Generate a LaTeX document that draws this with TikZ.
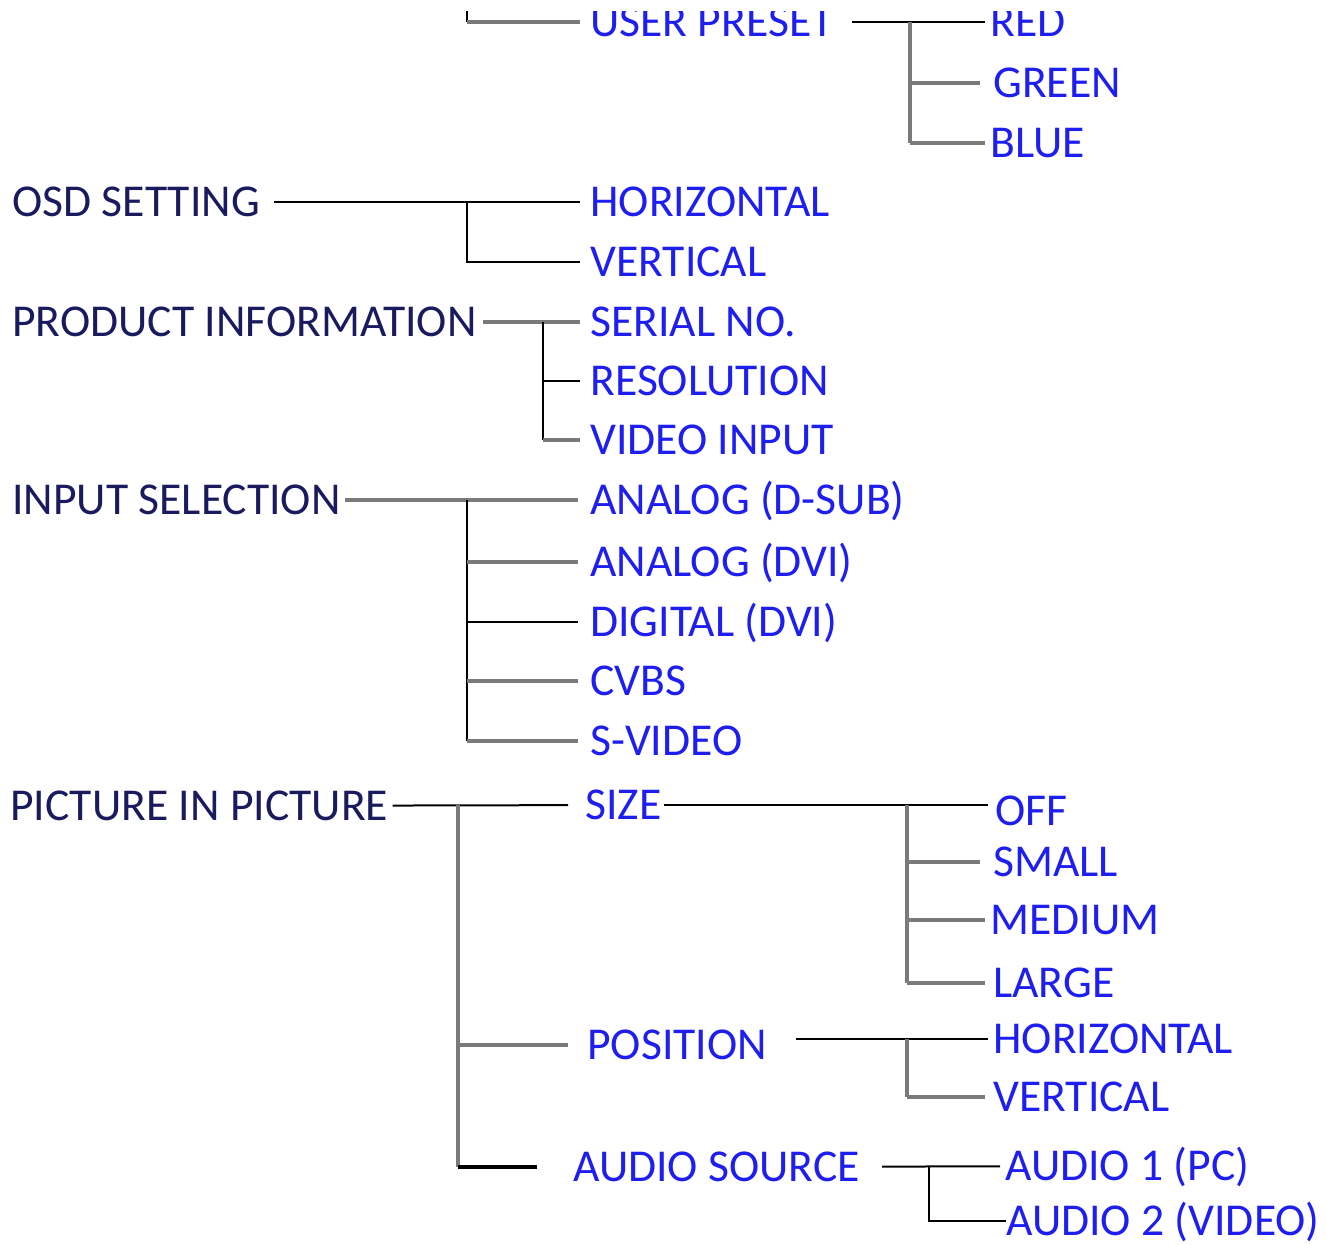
\documentclass[tikz,border=0pt]{standalone}
\usepackage{fontspec}
\setmainfont{Carlito}
\definecolor{menunavy}{HTML}{1A1A5E}
\definecolor{menublue}{HTML}{1E1EF0}
\definecolor{linegray}{HTML}{7A7A7A}

\begin{document}
\begin{tikzpicture}[x=0.5pt, y=-0.5pt,
  menu/.style={anchor=west, inner sep=0pt, text height=14.5pt, text depth=0pt,
    font=\fontsize{22.8}{27}\selectfont},
  top/.style={menu, text=menunavy},
  sub/.style={menu, text=menublue},
  thinwire/.style={draw=black, line width=1pt},
  thickwire/.style={draw=linegray, line width=2.2pt},
  trunk/.style={draw=linegray, line width=1.6pt}]

  \useasboundingbox (0,0) rectangle (1327,1245);
  \clip (0,12) rectangle (1327,1245);

  % user preset (cut off at the top)
  \coordinate (upTop) at (467,4);
  \node[sub] (userp) at (590,22) {USER PRESET};
  \node[sub] (red) at (990,22) {RED};
  \node[sub] (green) at (993,83) {GREEN};
  \node[sub] (blue) at (990,143) {BLUE};
  \coordinate (userJ) at (910,22);
  \draw[thinwire] (upTop) -- (upTop |- userp);
  \draw[thickwire, shorten >=5pt] (upTop |- userp) -- (userp);
  \draw[thinwire, shorten <=9pt, shorten >=2.5pt] (userp) -- (red);
  \draw[trunk] (userJ) -- (userJ |- blue);
  \draw[thickwire, shorten >=6.5pt] (userJ |- green) -- (green);
  \draw[thickwire, shorten >=2.5pt] (userJ |- blue) -- (blue);

  % osd setting
  \node[top] (osd) at (12,202) {OSD SETTING};
  \node[sub] (osdH) at (590,202) {HORIZONTAL};
  \node[sub] (osdV) at (590,262) {VERTICAL};
  \coordinate (osdJ) at (467,202);
  \draw[thinwire, shorten <=7pt, shorten >=5pt] (osd) -- (osdH);
  \draw[thinwire, shorten >=5pt] (osdJ) |- (osdV);

  % product information
  \node[top] (prod) at (12,322) {PRODUCT INFORMATION};
  \node[sub] (serial) at (590,322) {SERIAL NO.};
  \node[sub] (resol) at (590,381) {RESOLUTION};
  \node[sub] (vidin) at (590,440) {VIDEO INPUT};
  \coordinate (prodJ) at (543,322);
  \draw[thickwire, shorten <=3pt, shorten >=5pt] (prod) -- (serial);
  \draw[thinwire] (prodJ) -- (prodJ |- vidin);
  \draw[thinwire, shorten >=5pt] (prodJ |- resol) -- (resol);
  \draw[thickwire, shorten >=5pt] (prodJ |- vidin) -- (vidin);

  % input selection
  \node[top] (inpsel) at (12,500) {INPUT SELECTION};
  \node[sub] (adsub) at (590,500) {ANALOG (D-SUB)};
  \node[sub] (advi) at (590,562) {ANALOG (DVI)};
  \node[sub] (ddvi) at (590,622) {DIGITAL (DVI)};
  \node[sub] (cvbs) at (590,681) {CVBS};
  \node[sub] (svideo) at (590,741) {S-VIDEO};
  \coordinate (inpJ) at (467,500);
  \draw[thickwire, shorten <=2pt, shorten >=6pt] (inpsel) -- (adsub);
  \draw[thinwire] (inpJ) -- (inpJ |- svideo);
  \draw[thickwire, shorten >=6pt] (inpJ |- advi) -- (advi);
  \draw[thinwire, shorten >=6pt] (inpJ |- ddvi) -- (ddvi);
  \draw[thickwire, shorten >=6pt] (inpJ |- cvbs) -- (cvbs);
  \draw[thickwire, shorten >=6pt] (inpJ |- svideo) -- (svideo);

  % picture in picture
  \node[top] (pip) at (10,806) {PICTURE IN PICTURE};
  \node[sub] (size) at (585,805) {SIZE};
  \node[sub] (position) at (587,1045) {POSITION};
  \node[sub] (audsrc) at (573,1167) {AUDIO SOURCE};
  \coordinate (pipJ) at (458,805);
  \draw[thinwire, shorten <=2pt, shorten >=8.5pt] (pip) -- (size);
  \draw[trunk] (pipJ) -- (pipJ |- audsrc);
  \draw[thickwire, shorten >=9.5pt] (pipJ |- position) -- (position);
  \draw[thinwire, line width=1.6pt, shorten >=18pt] (pipJ |- audsrc) -- (audsrc);

  % size
  \node[sub] (off) at (995,811) {OFF};
  \node[sub] (small) at (993,862) {SMALL};
  \node[sub] (medium) at (990,920) {MEDIUM};
  \node[sub] (large) at (993,983) {LARGE};
  \coordinate (sizeJ) at (907,805);
  \draw[thinwire, shorten <=1pt, shorten >=3.5pt] (size) -- (size -| off.west);
  \draw[trunk] (sizeJ) -- (sizeJ |- large);
  \draw[thickwire, shorten >=6.5pt] (sizeJ |- small) -- (small);
  \draw[thickwire, shorten >=2.5pt] (sizeJ |- medium) -- (medium);
  \draw[thickwire, shorten >=4pt] (sizeJ |- large) -- (large);

  % position
  \node[sub] (posH) at (993,1039) {HORIZONTAL};
  \node[sub] (posV) at (993,1097) {VERTICAL};
  \coordinate (posJ) at (907,1039);
  \draw[thinwire, shorten <=14.5pt, shorten >=2.5pt] (position.east |- posH) -- (posH);
  \draw[trunk] (posJ) -- (posJ |- posV);
  \draw[thickwire, shorten >=4pt] (posJ |- posV) -- (posV);

  % audio source
  \node[sub] (aud1) at (1005,1166) {AUDIO 1 (PC)};
  \node[sub] (aud2) at (1006,1221) {AUDIO 2 (VIDEO)};
  \coordinate (audJ) at (929,1166);
  \draw[thinwire, shorten <=11pt, shorten >=2.5pt] (audsrc) -- (aud1);
  \draw[thinwire] (audJ) |- (aud2);

\end{tikzpicture}
\end{document}
